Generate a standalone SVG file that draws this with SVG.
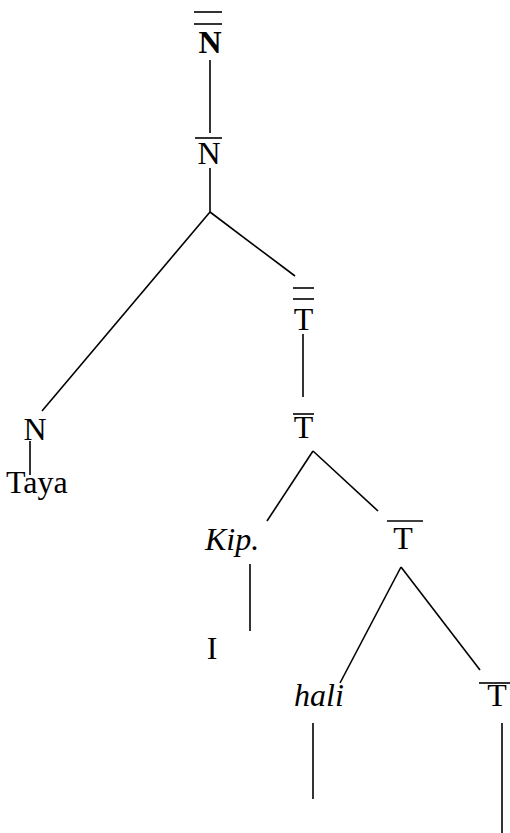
<svg xmlns="http://www.w3.org/2000/svg" width="510" height="833" viewBox="0 0 510 833">
<style>
.t{font-family:"Liberation Serif","Times New Roman",serif;font-size:32px;fill:#000}
.b{font-weight:bold}
.i{font-style:italic}
.m{text-anchor:middle}
.e line{stroke:#000;stroke-width:1.6;fill:none}
.bar{stroke:#000;stroke-width:1.6}
</style>
<rect width="510" height="833" fill="#fff"/>
<g id="n-nbar2">
<line class="bar" x1="194" y1="12" x2="222" y2="12"/>
<line class="bar" x1="194" y1="24" x2="222" y2="24"/>
<text class="t b m" x="210" y="53">N</text>
</g>
<g id="n-nbar1">
<line class="bar" x1="195" y1="138" x2="222" y2="138"/>
<text class="t m" x="209" y="164">N</text>
</g>
<g id="n-n">
<text class="t m" x="35" y="440">N</text>
</g>
<g id="n-taya">
<text class="t" x="6" y="493">Taya</text>
</g>
<g id="n-tbar2">
<line class="bar" x1="293" y1="288" x2="314" y2="288"/>
<line class="bar" x1="293" y1="299" x2="314" y2="299"/>
<text class="t m" x="303.5" y="330">T</text>
</g>
<g id="n-tbar1">
<line class="bar" x1="293" y1="414" x2="314" y2="414"/>
<text class="t m" x="303.5" y="438">T</text>
</g>
<g id="n-kip">
<text class="t i" x="205" y="550">Kip.</text>
</g>
<g id="n-i">
<text class="t m" x="212" y="659">I</text>
</g>
<g id="n-tbar-a">
<line class="bar" x1="387" y1="521" x2="423" y2="521"/>
<text class="t m" x="403" y="549">T</text>
</g>
<g id="n-hali">
<text class="t i" x="294" y="706">hali</text>
</g>
<g id="n-tbar-b">
<line class="bar" x1="479" y1="683" x2="510" y2="683"/>
<text class="t m" x="497" y="706">T</text>
</g>
<g id="edges" class="e">
<line x1="210" y1="60" x2="210" y2="133"/>
<line x1="210" y1="168" x2="210" y2="212"/>
<line x1="210" y1="212" x2="42" y2="411"/>
<line x1="210" y1="212" x2="295" y2="276"/>
<line x1="30" y1="441" x2="30" y2="475"/>
<line x1="303" y1="334" x2="303" y2="397"/>
<line x1="313" y1="451" x2="267" y2="521"/>
<line x1="313" y1="451" x2="378" y2="511"/>
<line x1="250" y1="564" x2="250" y2="631"/>
<line x1="401" y1="567" x2="340" y2="683"/>
<line x1="401" y1="567" x2="480" y2="670"/>
<line x1="313" y1="723" x2="313" y2="799"/>
<line x1="502" y1="723" x2="502" y2="833"/>
</g>
</svg>
